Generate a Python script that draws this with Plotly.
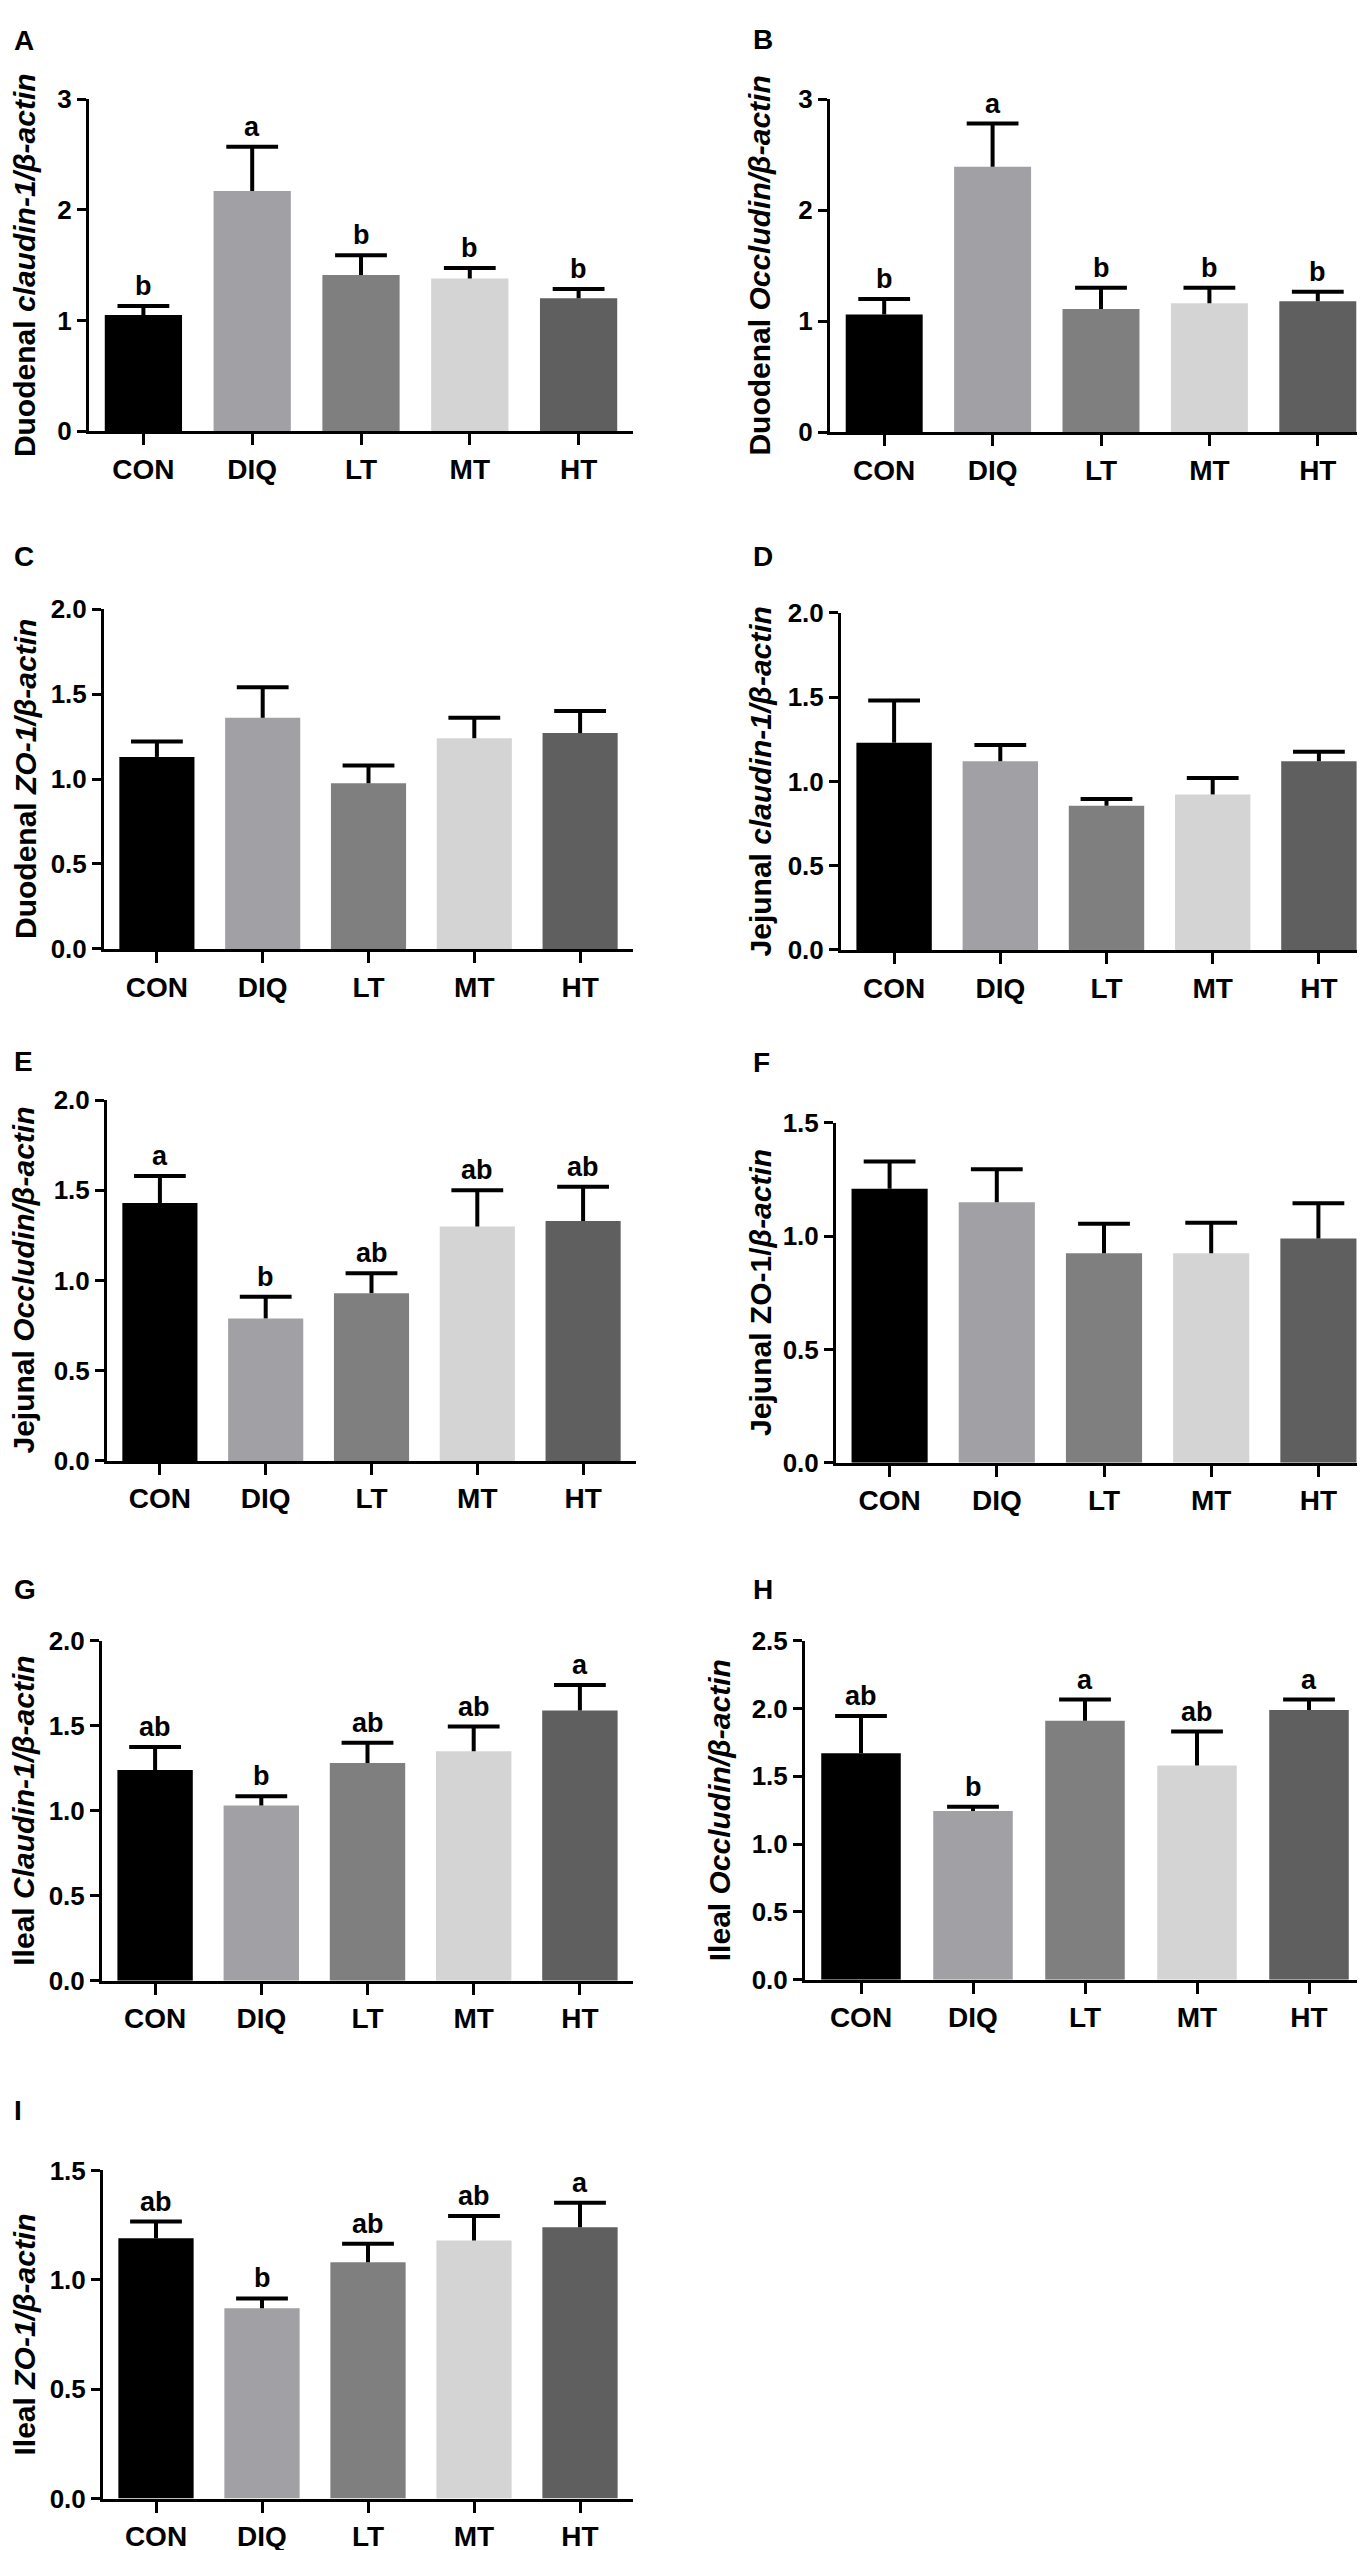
import plotly.graph_objects as go

W, H = 1365, 2550

groups = ["CON", "DIQ", "LT", "MT", "HT"]
bar_colors = ["#000000", "#a1a1a5", "#7f7f7f", "#d4d4d4", "#5f5f5f"]

# Panel A: Duodenal claudin-1
a_mean = [1.05, 2.17, 1.41, 1.38, 1.20]
a_err = [0.08, 0.40, 0.18, 0.095, 0.085]
a_sig = ["b", "a", "b", "b", "b"]
# Panel B: Duodenal Occludin
b_mean = [1.06, 2.39, 1.11, 1.16, 1.18]
b_err = [0.14, 0.39, 0.19, 0.14, 0.085]
b_sig = ["b", "a", "b", "b", "b"]
# Panel C: Duodenal ZO-1
c_mean = [1.13, 1.36, 0.975, 1.24, 1.27]
c_err = [0.09, 0.18, 0.105, 0.12, 0.13]
c_sig = None
# Panel D: Jejunal claudin-1
d_mean = [1.23, 1.12, 0.856, 0.923, 1.12]
d_err = [0.25, 0.096, 0.04, 0.097, 0.057]
d_sig = None
# Panel E: Jejunal Occludin
e_mean = [1.43, 0.79, 0.93, 1.30, 1.33]
e_err = [0.15, 0.12, 0.11, 0.20, 0.19]
e_sig = ["a", "b", "ab", "ab", "ab"]
# Panel F: Jejunal ZO-1
f_mean = [1.21, 1.15, 0.925, 0.925, 0.99]
f_err = [0.12, 0.145, 0.13, 0.135, 0.155]
f_sig = None
# Panel G: Ileal Claudin-1
g_mean = [1.24, 1.03, 1.28, 1.35, 1.59]
g_err = [0.135, 0.055, 0.12, 0.145, 0.15]
g_sig = ["ab", "b", "ab", "ab", "a"]
# Panel H: Ileal Occludin
h_mean = [1.67, 1.245, 1.91, 1.58, 1.99]
h_err = [0.275, 0.03, 0.156, 0.25, 0.076]
h_sig = ["ab", "b", "a", "ab", "a"]
# Panel I: Ileal ZO-1
i_mean = [1.19, 0.87, 1.08, 1.18, 1.24]
i_err = [0.076, 0.045, 0.085, 0.112, 0.112]
i_sig = ["ab", "b", "ab", "ab", "a"]

ticks_3 = [0, 1, 2, 3]
ticks_2 = [0, 0.5, 1.0, 1.5, 2.0]
ticks_15 = [0, 0.5, 1.0, 1.5]
ticks_25 = [0, 0.5, 1.0, 1.5, 2.0, 2.5]

titles = [
    "<b>Duodenal <i>claudin-1/β-actin</i></b>",
    "<b>Duodenal <i>Occludin/β-actin</i></b>",
    "<b>Duodenal <i>ZO-1/β-actin</i></b>",
    "<b>Jejunal <i>claudin-1/β-actin</i></b>",
    "<b>Jejunal <i>Occludin/β-actin</i></b>",
    "<b>Jejunal ZO-1/<i>β-actin</i></b>",
    "<b>Ileal <i>Claudin-1/β-actin</i></b>",
    "<b>Ileal <i>Occludin/β-actin</i></b>",
    "<b>Ileal <i>ZO-1/β-actin</i></b>",
]
letters = ["A", "B", "C", "D", "E", "F", "G", "H", "I"]

# layout geometry (page pixels): x0, x1, y_top, y_bottom, title_x, letter_x, letter_y
panels = [
    dict(m=a_mean, e=a_err, s=a_sig, t=ticks_3, fmt="d", g=(81, 625, 77, 413, 16, 4, 18)),
    dict(m=b_mean, e=b_err, s=b_sig, t=ticks_3, fmt="d", g=(822, 1364, 77, 414, 752, 743, 17)),
    dict(m=c_mean, e=c_err, s=c_sig, t=ticks_2, fmt=".1f", g=(96, 625, 593, 937, 17, 4, 540)),
    dict(m=d_mean, e=d_err, s=d_sig, t=ticks_2, fmt=".1f", g=(833, 1364, 597, 938, 752, 743, 540)),
    dict(m=e_mean, e=e_err, s=e_sig, t=ticks_2, fmt=".1f", g=(99, 628, 1090, 1455, 16, 4, 1051)),
    dict(m=f_mean, e=f_err, s=f_sig, t=ticks_15, fmt=".1f", g=(828, 1364, 1113, 1457, 753, 743, 1052)),
    dict(m=g_mean, e=g_err, s=g_sig, t=ticks_2, fmt=".1f", g=(94, 625, 1637, 1981, 16, 4, 1585)),
    dict(m=h_mean, e=h_err, s=h_sig, t=ticks_25, fmt=".1f", g=(797, 1357, 1637, 1980, 711, 743, 1585)),
    dict(m=i_mean, e=i_err, s=i_sig, t=ticks_15, fmt=".1f", g=(95, 625, 2173, 2505, 16, 4, 2112)),
]

FONT = "Liberation Sans, Arial, sans-serif"

def fx(px):
    return px / W

def fy(py):
    return 1 - py / H

fig = go.Figure()
layout = dict(
    width=W, height=H,
    margin=dict(l=0, r=0, t=0, b=0),
    paper_bgcolor="white", plot_bgcolor="white",
    showlegend=False,
    font=dict(family=FONT, color="black"),
    bargap=0.29,
)
annotations = []

for k, p in enumerate(panels, start=1):
    x0, x1, yt, yb, tx, lx, ly = p["g"]
    xa = "x" if k == 1 else f"x{k}"
    ya = "y" if k == 1 else f"y{k}"
    # bars with upper error stems (no caps)
    fig.add_trace(go.Bar(
        x=groups, y=p["m"], xaxis=xa, yaxis=ya,
        marker=dict(color=bar_colors, line=dict(width=0)),
        error_y=dict(type="data", array=p["e"], arrayminus=[0] * 5, symmetric=False,
                     color="black", thickness=4, width=0),
        hoverinfo="skip",
    ))
    # upper caps of the error bars
    tops = [mv + ev for mv, ev in zip(p["m"], p["e"])]
    fig.add_trace(go.Scatter(
        x=groups, y=tops, xaxis=xa, yaxis=ya, mode="markers",
        marker=dict(symbol="line-ew", size=37, color="black",
                    line=dict(width=4, color="black")),
        hoverinfo="skip", cliponaxis=False,
    ))
    ymax = p["t"][-1]
    layout["xaxis" if k == 1 else f"xaxis{k}"] = dict(
        domain=[fx(x0), fx(x1)], anchor=ya, type="category",
        range=[-0.5, 4.5], showline=True, linewidth=3, linecolor="black",
        ticks="outside", ticklen=11, tickwidth=3, tickcolor="black",
        showgrid=False, zeroline=False,
        tickfont=dict(family=FONT, size=28, color="black", weight="bold"),
        fixedrange=True,
    )
    layout["yaxis" if k == 1 else f"yaxis{k}"] = dict(
        domain=[fy(yb), fy(yt)], anchor=xa, range=[0, ymax],
        tickvals=p["t"], tickformat=p["fmt"],
        showline=True, linewidth=3, linecolor="black",
        ticks="outside", ticklen=9, tickwidth=3, tickcolor="black",
        showgrid=False, zeroline=False,
        tickfont=dict(family=FONT, size=26, color="black", weight="bold"),
        fixedrange=True,
    )
    # y title
    annotations.append(dict(
        text=titles[k - 1], textangle=-90, showarrow=False,
        xref="paper", yref="paper", x=fx(tx), y=fy((yt + yb) / 2),
        xanchor="center", yanchor="middle",
        font=dict(family=FONT, size=30, color="black"),
    ))
    # panel letter
    annotations.append(dict(
        text=f"<b>{letters[k - 1]}</b>", showarrow=False,
        xref="paper", yref="paper", x=fx(lx), y=fy(ly),
        xanchor="left", yanchor="middle",
        font=dict(family=FONT, size=28, color="black"),
    ))
    # significance letters
    if p["s"]:
        for gname, tv, sv in zip(groups, tops, p["s"]):
            annotations.append(dict(
                text=f"<b>{sv}</b>", showarrow=False,
                xref=xa, yref=ya, x=gname, y=tv,
                xanchor="center", yanchor="bottom", yshift=3,
                font=dict(family=FONT, size=27, color="black"),
            ))

layout["annotations"] = annotations
fig.update_layout(**layout)
fig.write_html("out.html")
